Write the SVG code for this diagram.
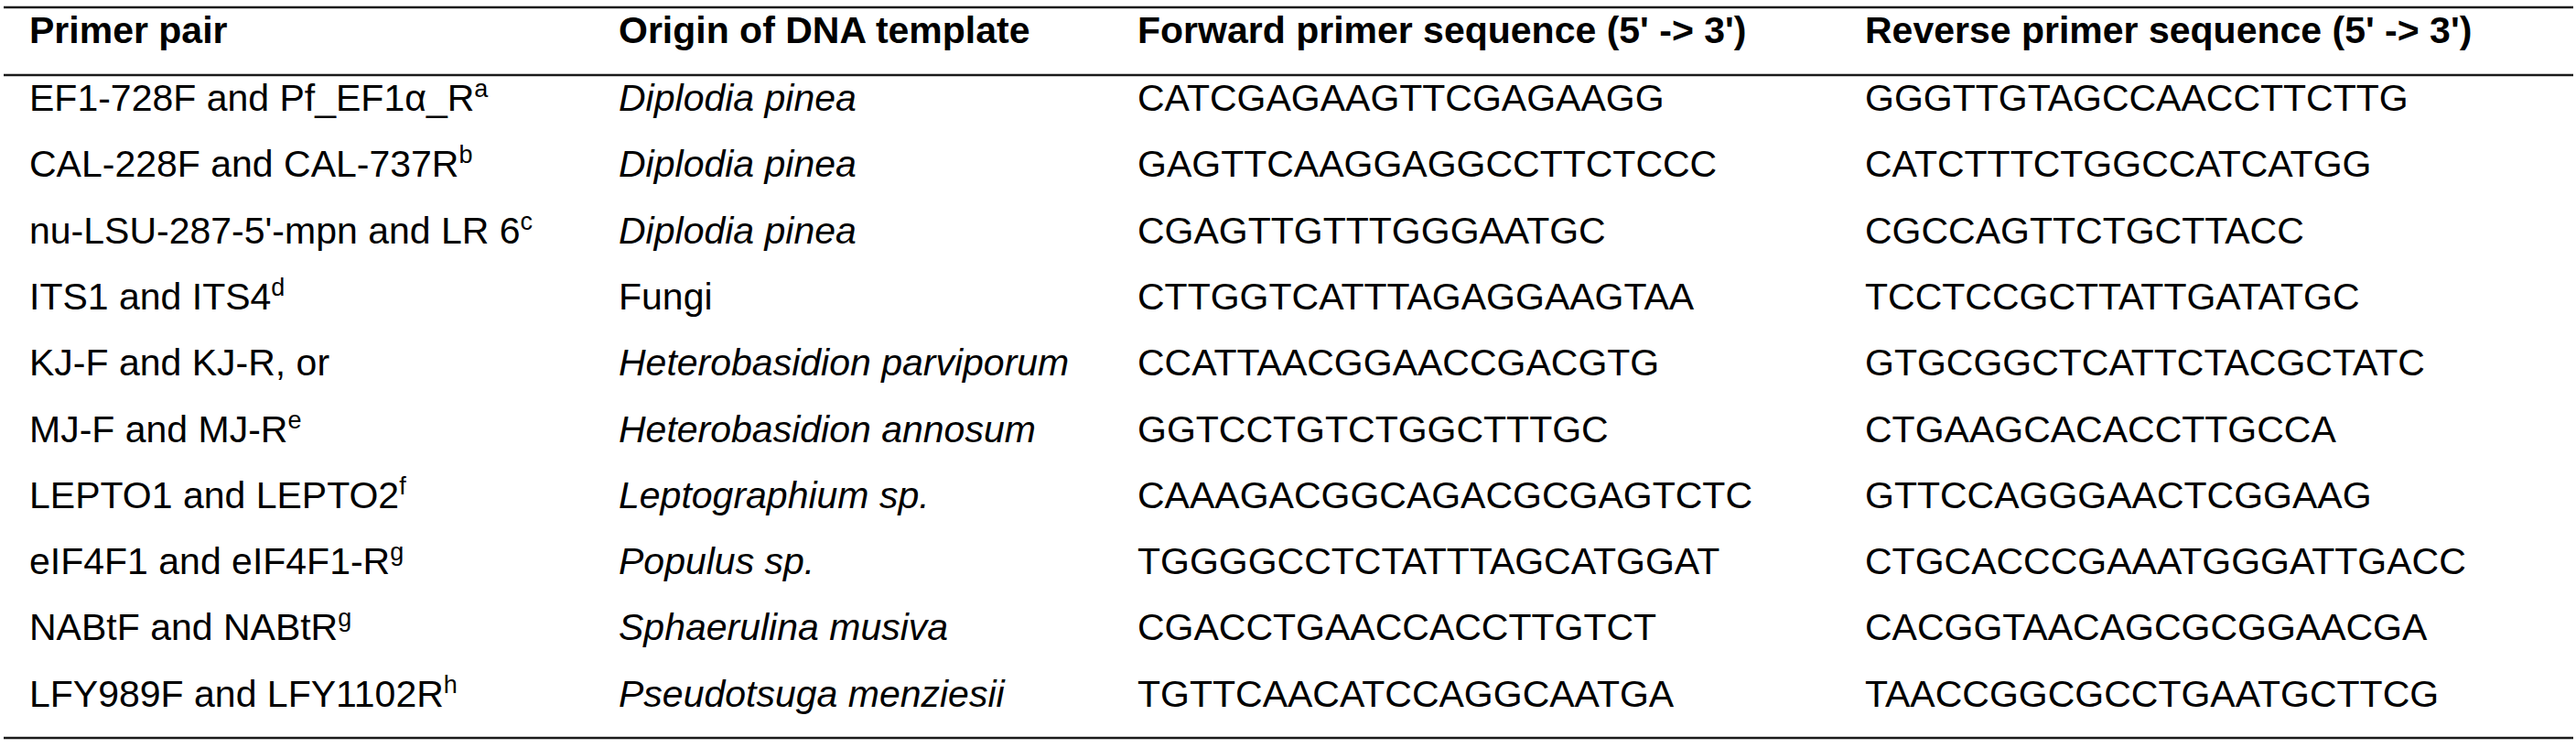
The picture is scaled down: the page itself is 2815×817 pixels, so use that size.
<svg xmlns="http://www.w3.org/2000/svg" width="2815" height="817" viewBox="0 0 2815 817">
<style>
text{font-family:"Liberation Sans",Arial,sans-serif;font-size:41px;fill:#000}
.h{font-weight:bold}
.i{font-style:italic}
.sup{font-size:27px}
.rule{stroke:#1a1a1a;stroke-width:2.5;fill:none}
</style>
<rect width="2815" height="817" fill="#fff"/>
<g id="rules">
<line class="rule" x1="4" y1="8" x2="2812" y2="8"/>
<line class="rule" x1="4" y1="82" x2="2812" y2="82"/>
<line class="rule" x1="4" y1="806" x2="2812" y2="806" stroke-width="3"/>
</g>
<g id="header">
<text class="h" x="32" y="47">Primer pair</text>
<text class="h" x="676" y="47">Origin of DNA template</text>
<text class="h" x="1243" y="47">Forward primer sequence (5' -&gt; 3')</text>
<text class="h" x="2038" y="47">Reverse primer sequence (5' -&gt; 3')</text>
</g>
<g id="row1">
<text x="32" y="121">EF1-728F and Pf_EF1α_R<tspan class="sup" dy="-15">a</tspan></text>
<text class="i" x="676" y="121">Diplodia pinea</text>
<text x="1243" y="121">CATCGAGAAGTTCGAGAAGG</text>
<text x="2038" y="121">GGGTTGTAGCCAACCTTCTTG</text>
</g>
<g id="row2">
<text x="32" y="193.3">CAL-228F and CAL-737R<tspan class="sup" dy="-15">b</tspan></text>
<text class="i" x="676" y="193.3">Diplodia pinea</text>
<text x="1243" y="193.3">GAGTTCAAGGAGGCCTTCTCCC</text>
<text x="2038" y="193.3">CATCTTTCTGGCCATCATGG</text>
</g>
<g id="row3">
<text x="32" y="265.6">nu-LSU-287-5'-mpn and LR 6<tspan class="sup" dy="-15">c</tspan></text>
<text class="i" x="676" y="265.6">Diplodia pinea</text>
<text x="1243" y="265.6">CGAGTTGTTTGGGAATGC</text>
<text x="2038" y="265.6">CGCCAGTTCTGCTTACC</text>
</g>
<g id="row4">
<text x="32" y="337.9">ITS1 and ITS4<tspan class="sup" dy="-15">d</tspan></text>
<text x="676" y="337.9">Fungi</text>
<text x="1243" y="337.9">CTTGGTCATTTAGAGGAAGTAA</text>
<text x="2038" y="337.9">TCCTCCGCTTATTGATATGC</text>
</g>
<g id="row5">
<text x="32" y="410.2">KJ-F and KJ-R, or</text>
<text class="i" x="676" y="410.2">Heterobasidion parviporum</text>
<text x="1243" y="410.2">CCATTAACGGAACCGACGTG</text>
<text x="2038" y="410.2">GTGCGGCTCATTCTACGCTATC</text>
</g>
<g id="row6">
<text x="32" y="482.5">MJ-F and MJ-R<tspan class="sup" dy="-15">e</tspan></text>
<text class="i" x="676" y="482.5">Heterobasidion annosum</text>
<text x="1243" y="482.5">GGTCCTGTCTGGCTTTGC</text>
<text x="2038" y="482.5">CTGAAGCACACCTTGCCA</text>
</g>
<g id="row7">
<text x="32" y="554.8">LEPTO1 and LEPTO2<tspan class="sup" dy="-15">f</tspan></text>
<text class="i" x="676" y="554.8">Leptographium sp.</text>
<text x="1243" y="554.8">CAAAGACGGCAGACGCGAGTCTC</text>
<text x="2038" y="554.8">GTTCCAGGGAACTCGGAAG</text>
</g>
<g id="row8">
<text x="32" y="627.1">eIF4F1 and eIF4F1-R<tspan class="sup" dy="-15">g</tspan></text>
<text class="i" x="676" y="627.1">Populus sp.</text>
<text x="1243" y="627.1">TGGGGCCTCTATTTAGCATGGAT</text>
<text x="2038" y="627.1">CTGCACCCGAAATGGGATTGACC</text>
</g>
<g id="row9">
<text x="32" y="699.4">NABtF and NABtR<tspan class="sup" dy="-15">g</tspan></text>
<text class="i" x="676" y="699.4">Sphaerulina musiva</text>
<text x="1243" y="699.4">CGACCTGAACCACCTTGTCT</text>
<text x="2038" y="699.4">CACGGTAACAGCGCGGAACGA</text>
</g>
<g id="row10">
<text x="32" y="771.7">LFY989F and LFY1102R<tspan class="sup" dy="-15">h</tspan></text>
<text class="i" x="676" y="771.7">Pseudotsuga menziesii</text>
<text x="1243" y="771.7">TGTTCAACATCCAGGCAATGA</text>
<text x="2038" y="771.7">TAACCGGCGCCTGAATGCTTCG</text>
</g>
</svg>
